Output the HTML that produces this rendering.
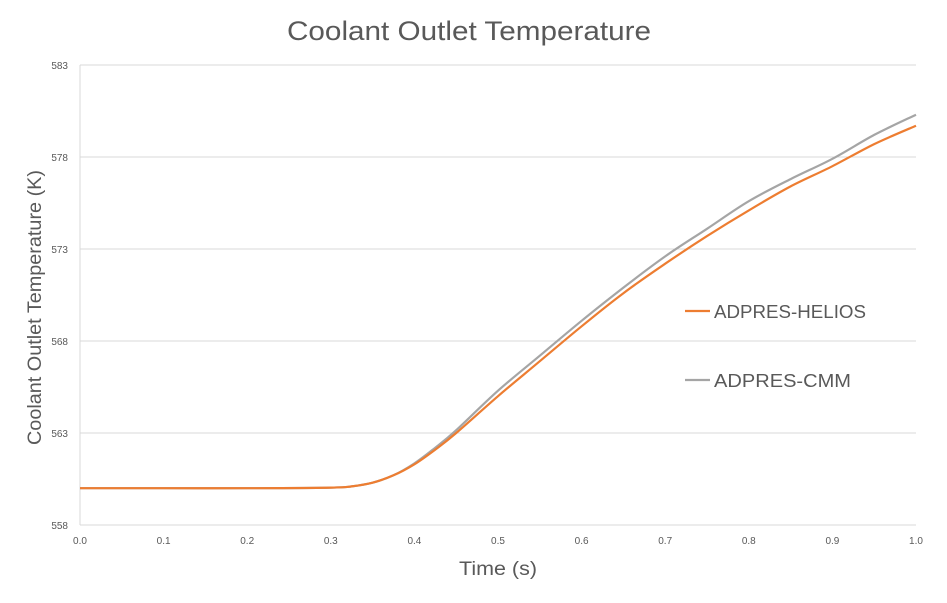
<!DOCTYPE html>
<html><head><meta charset="utf-8"><style>
body{margin:0;background:#fff;width:947px;height:598px;overflow:hidden;font-family:"Liberation Sans",sans-serif}
</style></head><body>
<svg id="chart" width="947" height="598" xmlns="http://www.w3.org/2000/svg">
<text x="287" y="40" font-size="27" fill="#595959" textLength="364" lengthAdjust="spacingAndGlyphs">Coolant Outlet Temperature</text>
<text x="459" y="575" font-size="19" fill="#595959" textLength="78" lengthAdjust="spacingAndGlyphs">Time (s)</text>
<text transform="translate(41,445) rotate(-90)" font-size="19" fill="#595959" textLength="275" lengthAdjust="spacingAndGlyphs">Coolant Outlet Temperature (K)</text>
<g id="grid"></g><g id="series"></g>
<g>
<line x1="685" y1="311" x2="710" y2="311" stroke="#ED7D31" stroke-width="2.2"/>
<text x="714" y="318" font-size="18" fill="#595959" textLength="152" lengthAdjust="spacingAndGlyphs">ADPRES-HELIOS</text>
<line x1="685" y1="380" x2="710" y2="380" stroke="#A5A5A5" stroke-width="2.2"/>
<text x="714" y="387" font-size="18" fill="#595959" textLength="137" lengthAdjust="spacingAndGlyphs">ADPRES-CMM</text>
</g>
</svg>
<script>
const times=[0,0.1,0.2,0.3,0.325,0.35,0.375,0.4,0.425,0.45,0.5,0.55,0.6,0.65,0.7,0.75,0.8,0.85,0.9,0.95,1.0];
const helios=[560,560,560,560.03,560.1,560.3,560.7,561.3,562.1,563.0,565.0,566.9,568.8,570.6,572.2,573.7,575.1,576.4,577.5,578.7,579.7];
const cmm=[560,560,560,560.03,560.1,560.3,560.7,561.35,562.2,563.15,565.3,567.2,569.1,570.9,572.6,574.1,575.6,576.8,577.9,579.2,580.3];
const yTicks=[558,563,568,573,578,583];
const xTicks=[0,0.1,0.2,0.3,0.4,0.5,0.6,0.7,0.8,0.9,1.0];
const X0=80,X1=916,Y0=525,Y1=65;
const xs=t=>X0+(X1-X0)*t;
const ys=v=>Y0-(v-558)/25*(Y0-Y1);
const NS="http://www.w3.org/2000/svg";
const grid=document.getElementById('grid'),ser=document.getElementById('series');
function mk(tag,attrs,parent){const e=document.createElementNS(NS,tag);for(const k in attrs)e.setAttribute(k,attrs[k]);parent.appendChild(e);return e;}
yTicks.forEach(v=>{
 const l=mk('line',{x1:X0,x2:X1,y1:ys(v),y2:ys(v),stroke:'#d9d9d9','stroke-width':1},grid);
 
 
 const t=mk('text',{x:X0-12,y:ys(v)+4,'text-anchor':'end','font-size':10,fill:'#595959'},grid);
 t.textContent=v;
 
 
});
const vl=mk('line',{x1:X0,x2:X0,y1:Y1,y2:Y0,stroke:'#d9d9d9','stroke-width':1},grid);


xTicks.forEach(v=>{
 const t=mk('text',{x:xs(v),y:Y0+19,'text-anchor':'middle','font-size':10,fill:'#595959'},grid);
 t.textContent=v.toFixed(1);
 
 
});
function path(vals){
 const P=vals.map((v,i)=>[xs(times[i]),ys(v)]);
 let d='M'+P[0][0].toFixed(1)+','+P[0][1].toFixed(1);
 for(let i=0;i<P.length-1;i++){
  const p0=P[Math.max(0,i-1)],p1=P[i],p2=P[i+1],p3=P[Math.min(P.length-1,i+2)];
  const c1=[p1[0]+(p2[0]-p0[0])/6,p1[1]+(p2[1]-p0[1])/6];
  const c2=[p2[0]-(p3[0]-p1[0])/6,p2[1]-(p3[1]-p1[1])/6];
  d+='C'+c1[0].toFixed(1)+','+c1[1].toFixed(1)+' '+c2[0].toFixed(1)+','+c2[1].toFixed(1)+' '+p2[0].toFixed(1)+','+p2[1].toFixed(1);
 }
 return d;
}
const pc=mk('path',{d:path(cmm),fill:'none',stroke:'#A5A5A5','stroke-width':2.2,'stroke-linejoin':'round'},ser);


const ph=mk('path',{d:path(helios),fill:'none',stroke:'#ED7D31','stroke-width':2.2,'stroke-linejoin':'round'},ser);


</script>
</body></html>
